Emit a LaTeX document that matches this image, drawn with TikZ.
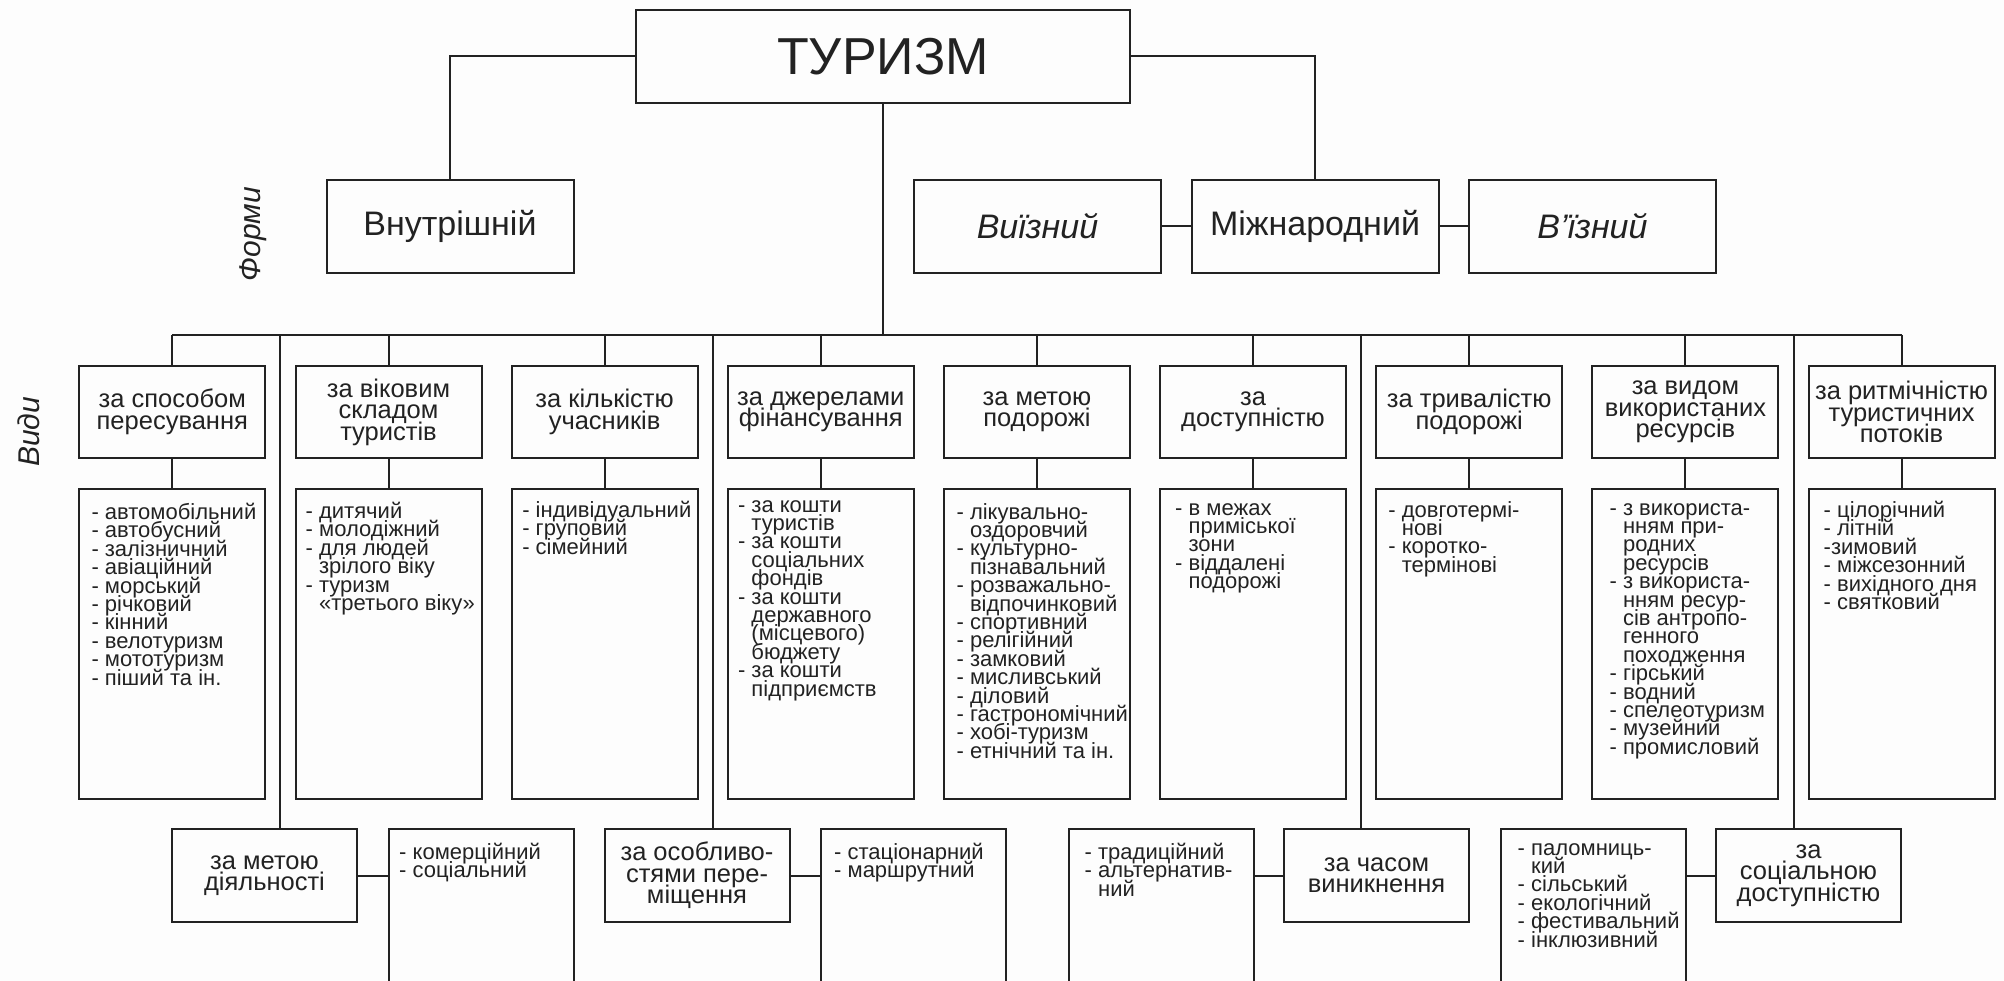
\documentclass[tikz,border=0pt]{standalone}
\usepackage{fontspec}
\setmainfont{Liberation Sans}
\definecolor{ink}{HTML}{222222}
\definecolor{paper}{HTML}{FDFDFD}
\newcommand{\tightlines}{\lineskiplimit=-100pt\lineskip=0pt}
\begin{document}
\begin{tikzpicture}[x=1pt,y=-1pt,
  box/.style={draw=ink, line width=2pt, inner sep=0pt, align=center, text=ink},
  topbox/.style={box, minimum width=494pt, minimum height=93pt, font=\fontsize{52}{56}\selectfont},
  formbox/.style={box, minimum width=247pt, minimum height=93pt, font=\fontsize{34}{38}\selectfont},
  catbox/.style={box, minimum width=186pt, minimum height=92pt, font=\fontsize{25.5}{21.5}\selectfont\tightlines},
  lstbox/.style={box, minimum width=186pt, minimum height=310pt},
  openbox/.style={box, minimum width=185pt, minimum height=250pt},
  lsttext/.style={anchor=north west, inner sep=0pt, align=left, text=ink, font=\fontsize{22}{18.4}\selectfont\tightlines},
  conn/.style={draw=ink, line width=2pt},
  side/.style={text=ink, font=\fontsize{30}{34}\selectfont\itshape, rotate=90, inner sep=0pt}
]
\useasboundingbox (0,0) rectangle (2004,981);
\clip (0,0) rectangle (2004,981);
\fill[paper] (0,0) rectangle (2004,981);

% top
\node[topbox] (top) at (883,56.5) {ТУРИЗМ};
\node[formbox] (f1) at (450,226.5) {Внутрішній};
\node[formbox] (f2) at (1037.5,226.5) {\itshape Виїзний};
\node[formbox] (f3) at (1315,226.5) {Міжнародний};
\node[formbox] (f4) at (1592.5,226.5) {\itshape В’їзний};
\node[side] (forms) at (253,234) {Форми};
\node[side] (vydy) at (29,432) {Види};

% categories
\node[catbox] (c1) at (172.3,412) {за способом\\пересування};
\node[catbox] (c2) at (388.5,412) {за віковим\\складом\\туристів};
\node[catbox] (c3) at (604.6,412) {за кількістю\\учасників};
\node[catbox] (c4) at (820.8,412) {за джерелами\\фінансування};
\node[catbox] (c5) at (1036.9,412) {за метою\\подорожі};
\node[catbox] (c6) at (1253,412) {за\\доступністю};
\node[catbox] (c7) at (1469.2,412) {за тривалістю\\подорожі};
\node[catbox] (c8) at (1685.4,412) {за видом\\використаних\\ресурсів};
\node[catbox] (c9) at (1901.5,412) {за ритмічністю\\туристичних\\потоків};

% list boxes
\foreach \i/\x in {1/172.3,2/388.5,3/604.6,4/820.8,5/1036.9,6/1253,7/1469.2,8/1685.4,9/1901.5}
  \node[lstbox] (l\i) at (\x,644) {};

\def\ind{\hphantom{- }}
\node[lsttext] (t1) at ([shift={(13,15)}]l1.north west) {- автомобільний\\- автобусний\\- залізничний\\- авіаційний\\- морський\\- річковий\\- кінний\\- велотуризм\\- мототуризм\\- піший та ін.};
\node[lsttext] (t2) at ([shift={(11,14)}]l2.north west) {- дитячий\\- молодіжний\\- для людей\\\ind зрілого віку\\- туризм\\\ind «третього віку»};
\node[lsttext] (t3) at ([shift={(11.5,13)}]l3.north west) {- індивідуальний\\- груповий\\- сімейний};
\node[lsttext] (t4) at ([shift={(11,12)}]l4.north west) {- за кошти\\\ind туристів\\- за кошти\\\ind соціальних\\\ind фондів\\- за кошти\\\ind державного\\\ind (місцевого)\\\ind бюджету\\- за кошти\\\ind підприємств};
\node[lsttext] (t5) at ([shift={(13.5,15)}]l5.north west) {- лікувально-\\\ind оздоровчий\\- культурно-\\\ind пізнавальний\\- розважально-\\\ind відпочинковий\\- спортивний\\- релігійний\\- замковий\\- мисливський\\- діловий\\- гастрономічний\\- хобі-туризм\\- етнічний та ін.};
\node[lsttext] (t6) at ([shift={(16,15)}]l6.north west) {- в межах\\\ind приміської\\\ind зони\\- віддалені\\\ind подорожі};
\node[lsttext] (t7) at ([shift={(13,13)}]l7.north west) {- довготермі-\\\ind нові\\- коротко-\\\ind термінові};
\node[lsttext] (t8) at ([shift={(18,15)}]l8.north west) {- з використа-\\\ind нням при-\\\ind родних\\\ind ресурсів\\- з використа-\\\ind нням ресур-\\\ind сів антропо-\\\ind генного\\\ind походження\\- гірський\\- водний\\- спелеотуризм\\- музейний\\- промисловий};
\node[lsttext] (t9) at ([shift={(16,13)}]l9.north west) {- цілорічний\\- літній\\-зимовий\\- міжсезонний\\- вихідного дня\\- святковий};

% bottom row
\node[catbox, minimum width=185pt, minimum height=93pt] (b1) at (264.5,875.5) {за метою\\діяльності};
\node[openbox] (bl1) at (481.5,954) {};
\node[catbox, minimum width=185pt, minimum height=93pt] (b2) at (697,875.5) {за особливо-\\стями пере-\\міщення};
\node[openbox] (bl2) at (913,954) {};
\node[openbox] (bl3) at (1161,954) {};
\node[catbox, minimum width=185pt, minimum height=93pt] (b3) at (1376.5,875.5) {за часом\\виникнення};
\node[openbox] (bl4) at (1593,954) {};
\node[catbox, minimum width=185pt, minimum height=93pt] (b4) at (1808.5,875.5) {за\\соціальною\\доступністю};

\node[lsttext] (u1) at ([shift={(11,15)}]bl1.north west) {- комерційний\\- соціальний};
\node[lsttext] (u2) at ([shift={(14.5,15)}]bl2.north west) {- стаціонарний\\- маршрутний};
\node[lsttext] (u3) at ([shift={(17,15)}]bl3.north west) {- традиційний\\- альтернатив-\\\ind ний};
\node[lsttext] (u4) at ([shift={(18,15)}]bl4.north west) {- паломниць-\\\ind кий\\- сільський\\- екологічний\\- фестивальний\\- інклюзивний};

% connectors
\coordinate (busL) at (172.3,335);
\coordinate (busR) at (1901.5,335);
\coordinate (j1) at (280.4,335);
\coordinate (j2) at (712.7,335);
\coordinate (j3) at (1361.1,335);
\coordinate (j4) at (1793.5,335);
\draw[conn] (busL) -- (busR);
\draw[conn] (top.south) -- (top.south |- busL);
\draw[conn] (top.west) -| (f1.north);
\draw[conn] (top.east) -| (f3.north);
\draw[conn] (f2.east) -- (f3.west);
\draw[conn] (f3.east) -- (f4.west);
\foreach \i in {1,...,9}{
  \draw[conn] (c\i.north |- busL) -- (c\i.north);
  \draw[conn] (c\i.south) -- (l\i.north);
}
\draw[conn] (j1) -- (j1 |- b1.north);
\draw[conn] (j2) -- (j2 |- b2.north);
\draw[conn] (j3) -- (j3 |- b3.north);
\draw[conn] (j4) -- (j4 |- b4.north);
\draw[conn] (b1.east) -- (b1.east -| bl1.west);
\draw[conn] (b2.east) -- (b2.east -| bl2.west);
\draw[conn] (bl3.east |- b3.west) -- (b3.west);
\draw[conn] (bl4.east |- b4.west) -- (b4.west);
\end{tikzpicture}
\end{document}
